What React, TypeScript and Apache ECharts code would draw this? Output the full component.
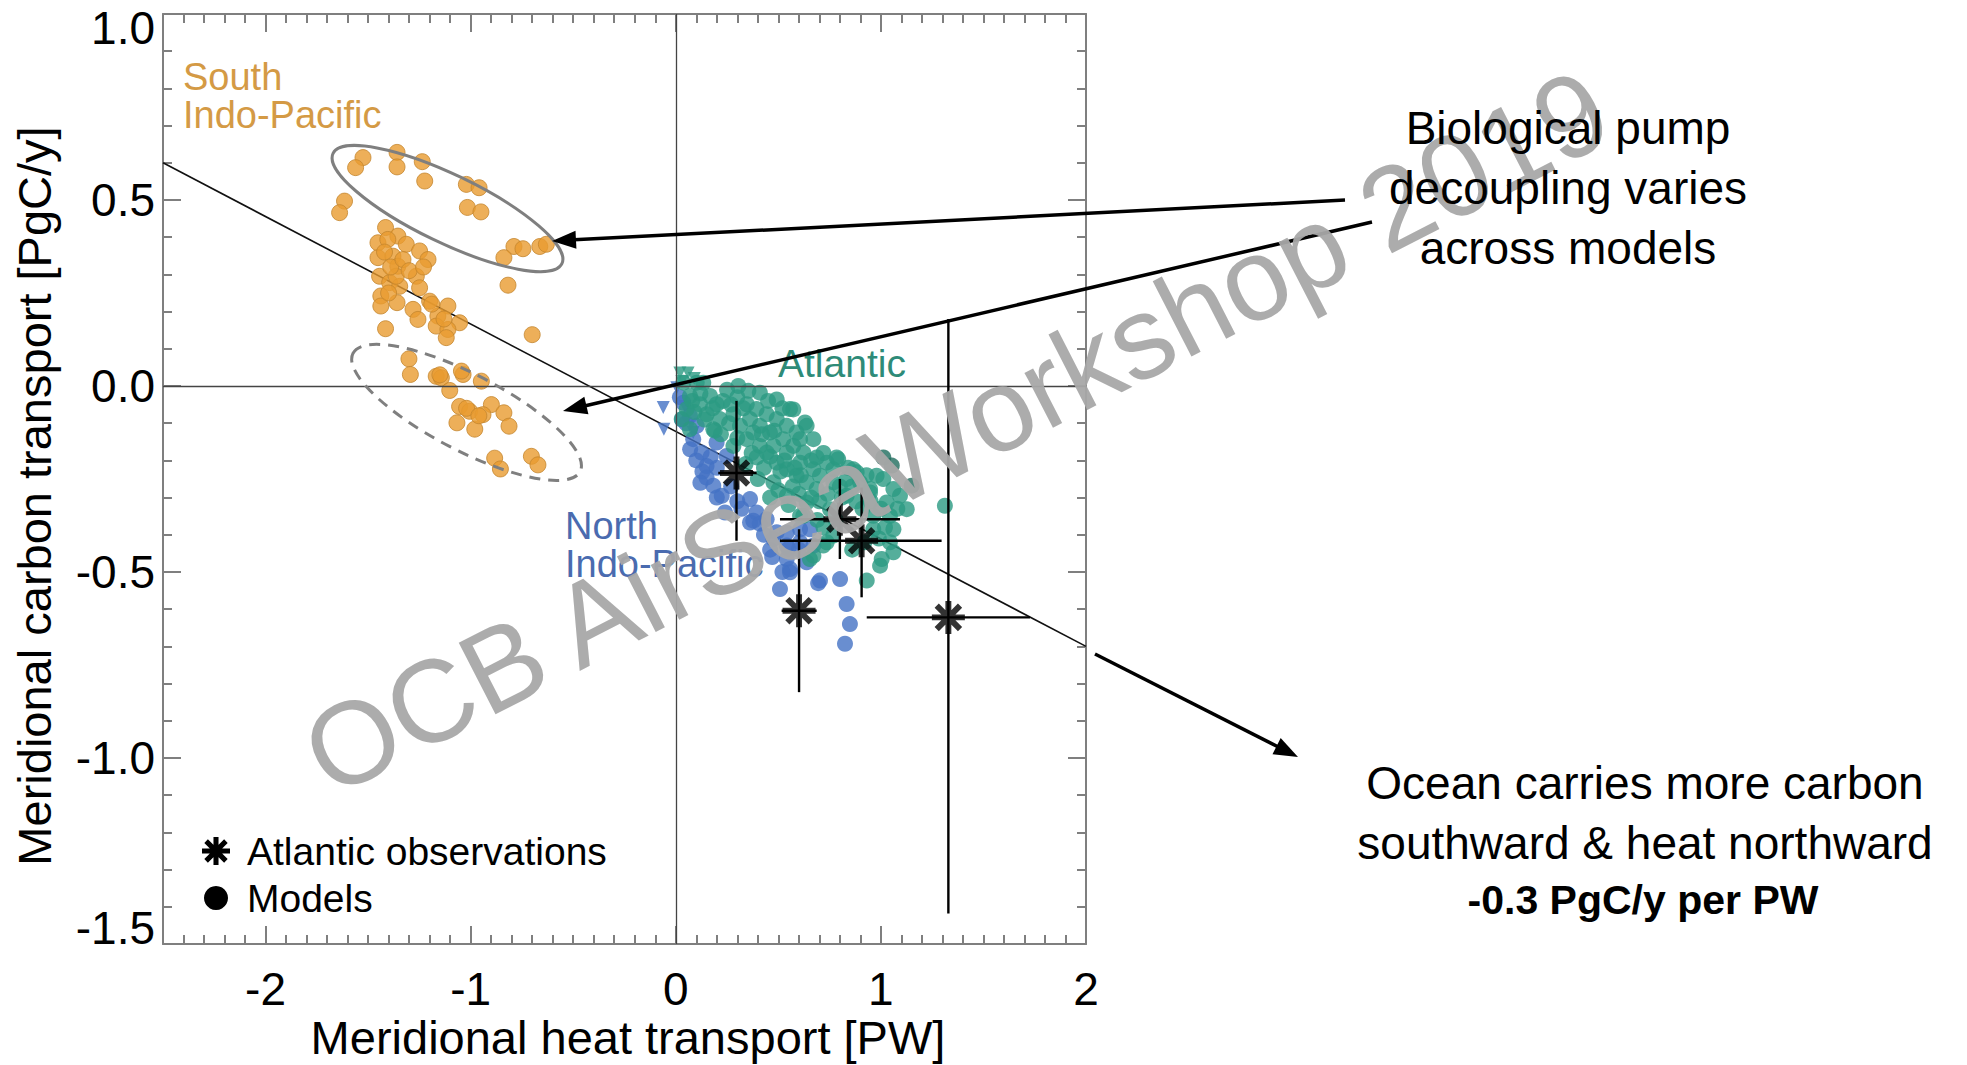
import React, { useEffect, useRef } from "react";
import * as echarts from "echarts";

// ---------- data ----------
const X_TICKS = [-2, -1, 0, 1, 2];
const X_MIN = -2.5;
const X_MAX = 2;
const Y_MIN = -1.5;
const Y_MAX = 1.0;

const SOUTH_INDO_PACIFIC: number[][] = [
  [-1.525, 0.614], [-1.561, 0.587], [-1.359, 0.628], [-1.359, 0.589], [-1.236, 0.603], [-1.224, 0.551],
  [-1.021, 0.542], [-0.959, 0.533], [-1.016, 0.48], [-0.95, 0.468], [-0.789, 0.375], [-0.745, 0.369],
  [-0.838, 0.345], [-0.663, 0.375], [-0.631, 0.381], [-0.818, 0.271], [-0.7, 0.138], [-1.615, 0.497],
  [-1.639, 0.466], [-1.415, 0.426], [-1.452, 0.385], [-1.355, 0.403], [-1.314, 0.381], [-1.452, 0.345],
  [-1.379, 0.349], [-1.249, 0.363], [-1.208, 0.34], [-1.355, 0.322], [-1.444, 0.295], [-1.395, 0.278],
  [-1.346, 0.268], [-1.265, 0.295], [-1.249, 0.264], [-1.438, 0.242], [-1.438, 0.215], [-1.359, 0.224],
  [-1.281, 0.206], [-1.257, 0.179], [-1.2, 0.228], [-1.111, 0.215], [-1.16, 0.188], [-1.054, 0.17],
  [-1.168, 0.161], [-1.111, 0.152], [-1.119, 0.13], [-1.415, 0.154], [-1.404, 0.394], [-1.363, 0.295],
  [-1.42, 0.36], [-1.39, 0.32], [-1.33, 0.34], [-1.3, 0.31], [-1.4, 0.25], [-1.23, 0.32], [-1.13, 0.18],
  [-1.19, 0.22], [-1.301, 0.073], [-1.294, 0.031], [-1.168, 0.026], [-1.143, 0.022], [-1.037, 0.031],
  [-0.948, 0.013], [-1.102, -0.012], [-1.054, -0.055], [-1.005, -0.068], [-0.899, -0.05], [-0.94, -0.077],
  [-0.838, -0.072], [-1.067, -0.099], [-0.98, -0.116], [-0.813, -0.108], [-0.883, -0.194], [-0.855, -0.223],
  [-0.704, -0.189], [-0.672, -0.212], [-1.15, 0.03], [-1.02, -0.06], [-0.96, -0.08], [-1.045, 0.04],
];

const NORTH_INDO_PACIFIC: number[][] = [
  [0.037, -0.045], [0.069, -0.08], [0.085, -0.143], [0.126, -0.179], [0.15, -0.215], [0.15, -0.246],
  [0.183, -0.268], [0.224, -0.295], [0.24, -0.34], [0.102, -0.107], [0.199, -0.152], [0.248, -0.188],
  [0.362, -0.304], [0.394, -0.34], [0.443, -0.358], [0.362, -0.367], [0.492, -0.393], [0.541, -0.429],
  [0.541, -0.465], [0.557, -0.501], [0.508, -0.546], [0.476, -0.411], [0.541, -0.394], [0.549, -0.438],
  [0.557, -0.492], [0.638, -0.474], [0.671, -0.429], [0.703, -0.523], [0.801, -0.519], [0.833, -0.586],
  [0.849, -0.64], [0.825, -0.693], [0.378, -0.362], [0.606, -0.385], [0.606, -0.42], [0.654, -0.385],
  [0.694, -0.53], [0.1, -0.2], [0.13, -0.23], [0.2, -0.22], [0.27, -0.27], [0.3, -0.31], [0.43, -0.4],
  [0.46, -0.44], [0.05, -0.1], [0.17, -0.19], [0.12, -0.26], [0.2, -0.3], [0.32, -0.33], [0.41, -0.37],
  [0.47, -0.46], [0.52, -0.5], [0.6, -0.44], [0.07, -0.17], [0.03, -0.09], [0.02, -0.03],
];
const NORTH_INDO_PACIFIC_TRI: number[][] = [
  [-0.061, -0.058], [-0.058, -0.116], [0.005, -0.005], [0.045, -0.055], [0.085, -0.125],
];

const ATLANTIC: number[][] = [
  [0.037, 0.009], [0.102, 0.009], [0.134, 0.009], [0.305, 0.0], [0.354, -0.013], [0.41, -0.018],
  [0.069, -0.027], [0.167, -0.027], [0.492, -0.036], [0.118, -0.049], [0.199, -0.049], [0.346, -0.049],
  [0.557, -0.062], [0.053, -0.062], [0.394, -0.062], [0.151, -0.076], [0.281, -0.076], [0.443, -0.076],
  [0.029, -0.089], [0.215, -0.089], [0.362, -0.089], [0.492, -0.089], [0.638, -0.107], [0.313, -0.107],
  [0.41, -0.107], [0.541, -0.107], [0.183, -0.116], [0.069, -0.116], [0.378, -0.125], [0.459, -0.125],
  [0.589, -0.125], [0.671, -0.143], [0.346, -0.143], [0.524, -0.143], [0.606, -0.143], [0.281, -0.161],
  [0.41, -0.161], [0.476, -0.161], [0.573, -0.161], [0.443, -0.179], [0.541, -0.179], [0.622, -0.179],
  [0.784, -0.192], [0.394, -0.192], [0.687, -0.192], [0.492, -0.206], [0.606, -0.206], [0.736, -0.206],
  [0.866, -0.224], [0.541, -0.224], [0.671, -0.224], [0.768, -0.224], [0.979, -0.241], [0.589, -0.241],
  [0.703, -0.241], [0.833, -0.25], [0.898, -0.259], [0.476, -0.259], [0.638, -0.259], [0.768, -0.259],
  [0.687, -0.277], [0.947, -0.277], [1.061, -0.277], [1.093, -0.295], [0.541, -0.295], [0.833, -0.295],
  [0.638, -0.313], [1.028, -0.313], [1.312, -0.322], [1.126, -0.331], [0.752, -0.331], [0.606, -0.349],
  [0.963, -0.349], [1.061, -0.385], [0.963, -0.385], [0.768, -0.402], [1.044, -0.42], [0.736, -0.42],
  [0.671, -0.456], [1.004, -0.465], [0.996, -0.483], [0.931, -0.523], [0.573, -0.063], [0.63, -0.098],
  [0.792, -0.197], [0.882, -0.232], [1.012, -0.25], [0.947, -0.286], [1.044, -0.349], [1.061, -0.447],
  [0.719, -0.429], [0.654, -0.465], [0.622, -0.349],
  [0.08, -0.04], [0.12, -0.02], [0.18, -0.06], [0.23, -0.04], [0.26, -0.1], [0.22, -0.13], [0.3, -0.14],
  [0.33, -0.06], [0.3, -0.03], [0.25, -0.01], [0.37, -0.18], [0.34, -0.21], [0.43, -0.22], [0.4, -0.25],
  [0.46, -0.19], [0.51, -0.23], [0.5, -0.28], [0.46, -0.3], [0.57, -0.27], [0.55, -0.32], [0.6, -0.29],
  [0.66, -0.3], [0.7, -0.31], [0.69, -0.36], [0.72, -0.38], [0.78, -0.36], [0.81, -0.3], [0.88, -0.31],
  [0.91, -0.33], [0.86, -0.27], [0.74, -0.29], [0.8, -0.27], [0.84, -0.22], [0.93, -0.24], [0.95, -0.31],
  [1.0, -0.33], [1.08, -0.33], [0.99, -0.41], [1.02, -0.38], [0.92, -0.42], [0.86, -0.44], [0.61, -0.24],
  [0.66, -0.2], [0.72, -0.18], [0.52, -0.06], [0.45, -0.04], [0.48, -0.12], [0.53, -0.2], [0.58, -0.22],
  [0.42, -0.13], [0.27, -0.05], [0.14, -0.09], [0.19, -0.12], [0.09, -0.07],
];
const ATLANTIC_TRI: number[][] = [
  [0.02, 0.035], [0.06, 0.035], [0.09, 0.02], [0.03, 0.012],
];
const ATLANTIC_DARK: number[][] = [
  [1.012, -0.192], [1.053, -0.214], [1.15, -0.268],
];

// Atlantic observations: [x, y] and error bars [xLow, xHigh, yLow, yHigh]
const OBS: number[][] = [
  [0.296, -0.234], [0.8, -0.358], [0.906, -0.416], [0.601, -0.604], [1.329, -0.622],
];
const OBS_ERR: number[][] = [
  [0.207, 0.394, -0.416, -0.04],
  [0.508, 1.093, -0.465, -0.25],
  [0.508, 1.296, -0.568, -0.273],
  [0.516, 0.687, -0.823, -0.385],
  [0.931, 1.727, -1.418, 0.18],
];

// regression line end points
const FIT_LINE: number[][] = [[-2.5, 0.6], [2.0, -0.7]];

// ellipse centres (data coords)
const ELLIPSE_SOLID_C = [-1.113, 0.477];
const ELLIPSE_DASH_C = [-1.02, -0.071];

// ---------- styles ----------
const FONT = '"Liberation Sans", Arial, Helvetica, sans-serif';
const AXIS_GREY = "#7f7f7f";
const C_ORANGE = "#E89B30";
const C_BLUE = "#4472C4";
const C_TEAL = "#2A9A82";
const C_DARKTEAL = "#1E6B5C";

function starPath(): string {
  const parts: string[] = [];
  for (const deg of [0, 45, 90, 135]) {
    const t = (deg * Math.PI) / 180;
    const c = Math.cos(t);
    const s = Math.sin(t);
    const pts = [
      [-50, -9], [50, -9], [50, 9], [-50, 9],
    ].map(([u, v]) => [50 + u * c - v * s, 50 + u * s + v * c]);
    parts.push(
      "M" + pts.map((p) => p[0].toFixed(2) + " " + p[1].toFixed(2)).join(" L") + " Z"
    );
  }
  return parts.join(" ");
}
const STAR_D = starPath();
try {
  echarts.graphic.registerShape("obsstar", (echarts.graphic as any).extendPath(STAR_D, {}));
} catch (e) {
  /* already registered */
}

function arrow(x1: number, y1: number, x2: number, y2: number): any[] {
  const dx = x2 - x1;
  const dy = y2 - y1;
  const L = Math.hypot(dx, dy);
  const ux = dx / L;
  const uy = dy / L;
  const headLen = 24;
  const headW = 9;
  const bx = x2 - ux * headLen;
  const by = y2 - uy * headLen;
  const px = -uy;
  const py = ux;
  return [
    {
      type: "line",
      z: 60,
      shape: { x1, y1, x2: bx + ux * 2, y2: by + uy * 2 },
      style: { stroke: "#000", lineWidth: 3.5 },
    },
    {
      type: "polygon",
      z: 60,
      shape: {
        points: [
          [x2, y2],
          [bx + px * headW, by + py * headW],
          [bx - px * headW, by - py * headW],
        ],
      },
      style: { fill: "#000" },
    },
  ];
}

const App: React.FC = () => {
  const ref = useRef<HTMLDivElement>(null);

  useEffect(() => {
    if (!ref.current) return;
    const chart = echarts.init(ref.current, null, { renderer: "svg" });

    const labelRich = {
      top: { padding: [28, 0, 0, 0], fontSize: 46, fontFamily: FONT, color: "#000" },
      bot: { padding: [0, 0, 32, 0], fontSize: 46, fontFamily: FONT, color: "#000" },
    };

    const xMajor = (pos: string, labels: boolean) => ({
      type: "value",
      min: X_MIN,
      max: X_MAX,
      position: pos,
      axisLine: { show: true, onZero: false, lineStyle: { color: AXIS_GREY, width: 2 } },
      axisTick: {
        show: true,
        inside: true,
        length: 18,
        customValues: X_TICKS,
        lineStyle: { color: AXIS_GREY, width: 2 },
      },
      axisLabel: labels
        ? {
            show: true,
            customValues: X_TICKS,
            fontSize: 46,
            fontFamily: FONT,
            color: "#000",
            margin: 22,
            formatter: (v: number) => String(v),
          }
        : { show: false },
      splitLine: { show: false },
    });
    const xMinor = (pos: string) => ({
      type: "value",
      min: X_MIN,
      max: X_MAX,
      interval: 0.1,
      position: pos,
      axisLine: { show: false, onZero: false },
      axisTick: { show: true, inside: true, length: 9, lineStyle: { color: AXIS_GREY, width: 2 } },
      axisLabel: { show: false },
      splitLine: { show: false },
    });
    const yAxisDef = (pos: string, labels: boolean) => ({
      type: "value",
      min: Y_MIN,
      max: Y_MAX,
      interval: 0.5,
      position: pos,
      axisLine: { show: true, onZero: false, lineStyle: { color: AXIS_GREY, width: 2 } },
      axisTick: { show: true, inside: true, length: 18, lineStyle: { color: AXIS_GREY, width: 2 } },
      minorTick: { show: true, splitNumber: 5, length: 9, lineStyle: { color: AXIS_GREY, width: 2 } },
      axisLabel: labels
        ? {
            show: true,
            fontSize: 46,
            fontFamily: FONT,
            color: "#000",
            margin: 8,
            formatter: (v: number) => {
              const s = v.toFixed(1);
              if (Math.abs(v - Y_MAX) < 1e-6) return "{top|" + s + "}";
              if (Math.abs(v - Y_MIN) < 1e-6) return "{bot|" + s + "}";
              return s;
            },
            rich: labelRich,
          }
        : { show: false },
      splitLine: { show: false },
    });

    const option: any = {
      animation: false,
      backgroundColor: "#ffffff",
      textStyle: { fontFamily: FONT },
      grid: { left: 163, top: 14, width: 923, height: 930, containLabel: false, outerBoundsMode: "none" },
      xAxis: [xMajor("bottom", true), xMinor("bottom"), xMajor("top", false), xMinor("top")],
      yAxis: [yAxisDef("left", true), yAxisDef("right", false)],
      series: [
        {
          name: "Regression",
          type: "line",
          xAxisIndex: 0,
          yAxisIndex: 0,
          data: FIT_LINE,
          symbol: "none",
          lineStyle: { color: "#111", width: 1.6 },
          z: 1,
          markLine: {
            silent: true,
            symbol: ["none", "none"],
            label: { show: false },
            lineStyle: { color: "#444", width: 1.3, type: "solid" },
            data: [{ xAxis: 0 }, { yAxis: 0 }],
          },
        },
        {
          name: "South Indo-Pacific",
          type: "scatter",
          xAxisIndex: 0,
          yAxisIndex: 0,
          data: SOUTH_INDO_PACIFIC,
          symbol: "circle",
          symbolSize: 16,
          itemStyle: { color: C_ORANGE, borderColor: "#C4862E", borderWidth: 1 },
          z: 2,
        },
        {
          name: "North Indo-Pacific",
          type: "scatter",
          xAxisIndex: 0,
          yAxisIndex: 0,
          data: NORTH_INDO_PACIFIC,
          symbol: "circle",
          symbolSize: 16,
          itemStyle: { color: C_BLUE },
          z: 2,
        },
        {
          name: "North Indo-Pacific (triangles)",
          type: "scatter",
          xAxisIndex: 0,
          yAxisIndex: 0,
          data: NORTH_INDO_PACIFIC_TRI,
          symbol: "triangle",
          symbolRotate: 180,
          symbolSize: 13,
          itemStyle: { color: C_BLUE },
          z: 2,
        },
        {
          name: "Atlantic",
          type: "scatter",
          xAxisIndex: 0,
          yAxisIndex: 0,
          data: ATLANTIC,
          symbol: "circle",
          symbolSize: 16,
          itemStyle: { color: C_TEAL },
          z: 3,
        },
        {
          name: "Atlantic (triangles)",
          type: "scatter",
          xAxisIndex: 0,
          yAxisIndex: 0,
          data: ATLANTIC_TRI,
          symbol: "triangle",
          symbolRotate: 180,
          symbolSize: 13,
          itemStyle: { color: C_TEAL },
          z: 3,
        },
        {
          name: "Atlantic (dark)",
          type: "scatter",
          xAxisIndex: 0,
          yAxisIndex: 0,
          data: ATLANTIC_DARK,
          symbol: "circle",
          symbolSize: 16,
          itemStyle: { color: C_DARKTEAL },
          z: 3,
        },
        {
          name: "Observation errors",
          type: "custom",
          xAxisIndex: 0,
          yAxisIndex: 0,
          data: OBS.map((p, i) => [p[0], p[1], ...OBS_ERR[i]]),
          encode: { x: [0, 2, 3], y: [1, 4, 5] },
          z: 5,
          renderItem: (params: any, api: any) => {
            const x = api.value(0);
            const y = api.value(1);
            const h1 = api.coord([api.value(2), y]);
            const h2 = api.coord([api.value(3), y]);
            const v1 = api.coord([x, api.value(4)]);
            const v2 = api.coord([x, api.value(5)]);
            return {
              type: "group",
              children: [
                {
                  type: "line",
                  shape: { x1: h1[0], y1: h1[1], x2: h2[0], y2: h2[1] },
                  style: { stroke: "#000", lineWidth: 2.4 },
                },
                {
                  type: "line",
                  shape: { x1: v1[0], y1: v1[1], x2: v2[0], y2: v2[1] },
                  style: { stroke: "#000", lineWidth: 2.4 },
                },
              ],
            };
          },
        },
        {
          name: "Atlantic observations",
          type: "scatter",
          xAxisIndex: 0,
          yAxisIndex: 0,
          data: OBS,
          symbol: "path://" + STAR_D,
          symbolSize: 33,
          itemStyle: { color: "#000" },
          z: 6,
        },
      ],
    };

    chart.setOption(option);

    const pS = chart.convertToPixel({ seriesIndex: 0 }, ELLIPSE_SOLID_C) as number[];
    const pD = chart.convertToPixel({ seriesIndex: 0 }, ELLIPSE_DASH_C) as number[];

    const groupLabel = (text: string, x: number, y: number, color: string) => ({
      type: "text",
      z: 40,
      x,
      y,
      style: {
        text,
        fontSize: 38,
        fontFamily: FONT,
        fill: color,
        lineHeight: 38,
        align: "left",
        verticalAlign: "middle",
      },
    });

    const graphic: any[] = [
      // ellipses
      {
        type: "ellipse",
        z: 50,
        x: pS[0],
        y: pS[1],
        rotation: (-25.7 * Math.PI) / 180,
        shape: { cx: 0, cy: 0, rx: 127, ry: 34 },
        style: { fill: "none", stroke: "#7f7f7f", lineWidth: 3 },
      },
      {
        type: "ellipse",
        z: 50,
        x: pD[0],
        y: pD[1],
        rotation: (-27.5 * Math.PI) / 180,
        shape: { cx: 0, cy: 0, rx: 128, ry: 38 },
        style: { fill: "none", stroke: "#7f7f7f", lineWidth: 3, lineDash: [11, 8] },
      },
      // arrows
      ...arrow(1345, 200, 552, 241),
      ...arrow(1372, 222, 563, 411),
      ...arrow(1095, 654, 1298, 757),
      // group labels
      groupLabel("South\nIndo-Pacific", 183, 96, "#D49A45"),
      {
        type: "text",
        z: 40,
        x: 778,
        y: 363,
        style: { text: "Atlantic", fontSize: 39, fontFamily: FONT, fill: "#2E8B78", align: "left", verticalAlign: "middle" },
      },
      groupLabel("North\nIndo-Pacific", 565, 545, "#4A6BAF"),
      // legend
      {
        type: "obsstar",
        z: 40,
        x: 216 - 14,
        y: 851 - 14,
        scaleX: 0.28,
        scaleY: 0.28,
        style: { fill: "#000" },
      },
      {
        type: "text",
        z: 40,
        x: 247,
        y: 851,
        style: { text: "Atlantic observations", fontSize: 39, fontFamily: FONT, fill: "#000", align: "left", verticalAlign: "middle" },
      },
      {
        type: "circle",
        z: 40,
        shape: { cx: 216, cy: 898, r: 12 },
        style: { fill: "#000" },
      },
      {
        type: "text",
        z: 40,
        x: 247,
        y: 898,
        style: { text: "Models", fontSize: 39, fontFamily: FONT, fill: "#000", align: "left", verticalAlign: "middle" },
      },
      // axis titles
      {
        type: "text",
        z: 40,
        x: 628,
        y: 1037,
        style: { text: "Meridional heat transport [PW]", fontSize: 47, fontFamily: FONT, fill: "#000", align: "center", verticalAlign: "middle" },
      },
      {
        type: "text",
        z: 40,
        x: 34,
        y: 496,
        rotation: Math.PI / 2,
        style: { text: "Meridional carbon transport [PgC/y]", fontSize: 47, fontFamily: FONT, fill: "#000", align: "center", verticalAlign: "middle" },
      },
      // right annotations (drawn above the watermark)
      {
        type: "text",
        z: 110,
        x: 1568,
        y: 188,
        style: {
          text: "Biological pump\ndecoupling varies\nacross models",
          fontSize: 46,
          lineHeight: 60,
          fontFamily: FONT,
          fill: "#000",
          align: "center",
          verticalAlign: "middle",
        },
      },
      {
        type: "text",
        z: 110,
        x: 1645,
        y: 813,
        style: {
          text: "Ocean carries more carbon\nsouthward & heat northward",
          fontSize: 46,
          lineHeight: 60,
          fontFamily: FONT,
          fill: "#000",
          align: "center",
          verticalAlign: "middle",
        },
      },
      {
        type: "text",
        z: 110,
        x: 1643,
        y: 900,
        style: {
          text: "-0.3 PgC/y per PW",
          fontSize: 41,
          fontWeight: "bold",
          fontFamily: FONT,
          fill: "#000",
          align: "center",
          verticalAlign: "middle",
        },
      },
      // watermark
      {
        type: "text",
        z: 100,
        x: 956,
        y: 432,
        rotation: (27.2 * Math.PI) / 180,
        style: {
          text: "OCB AirSeaWorkshop 2019",
          fontSize: 117,
          fontFamily: FONT,
          fill: "#A8A8A8",
          opacity: 0.95,
          align: "center",
          verticalAlign: "middle",
        },
      },
    ];

    chart.setOption({ graphic });

    return () => {
      chart.dispose();
    };
  }, []);

  return (
    <div
      ref={ref}
      style={{ position: "fixed", left: 0, top: 0, width: 1967, height: 1065, background: "#fff" }}
    />
  );
};

export default App;
